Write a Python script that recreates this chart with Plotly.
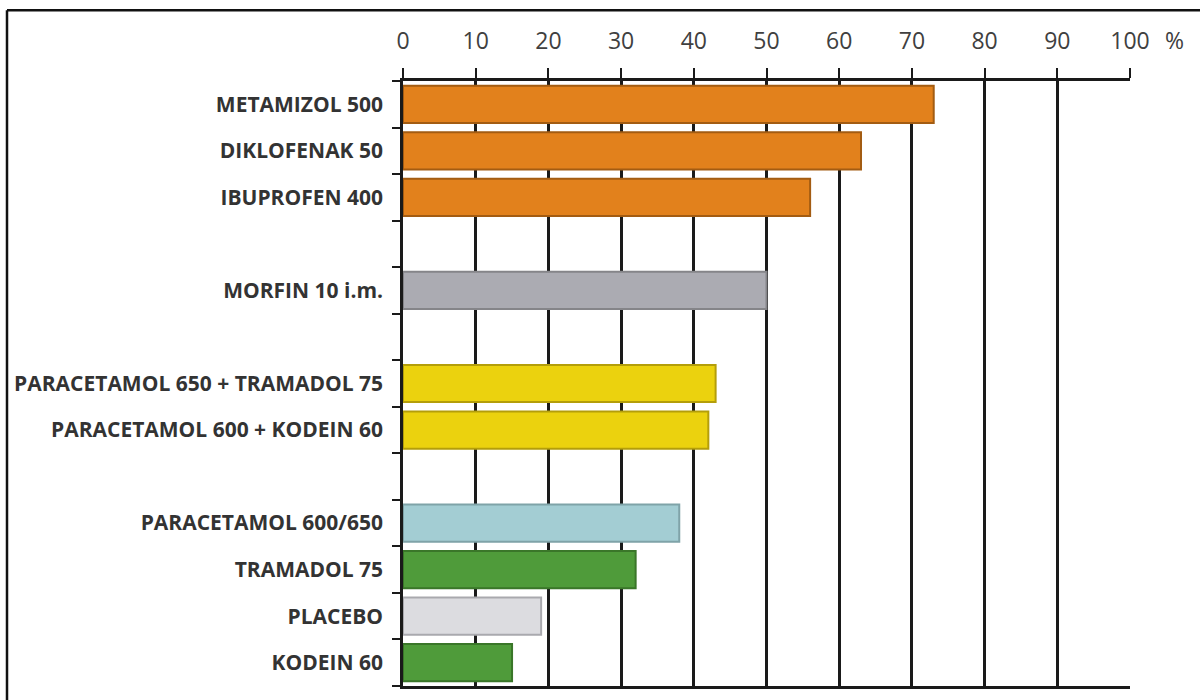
import plotly.graph_objects as go

# Response rates (%) by analgesic, in display order (top to bottom).
# Blank strings are spacer rows between groups.
categories = [
    "METAMIZOL 500", "DIKLOFENAK 50", "IBUPROFEN 400", " ",
    "MORFIN 10 i.m.", "  ",
    "PARACETAMOL 650 + TRAMADOL 75", "PARACETAMOL 600 + KODEIN 60", "   ",
    "PARACETAMOL 600/650", "TRAMADOL 75", "PLACEBO", "KODEIN 60",
]
drugs = [
    "METAMIZOL 500", "DIKLOFENAK 50", "IBUPROFEN 400",
    "MORFIN 10 i.m.",
    "PARACETAMOL 650 + TRAMADOL 75", "PARACETAMOL 600 + KODEIN 60",
    "PARACETAMOL 600/650", "TRAMADOL 75", "PLACEBO", "KODEIN 60",
]
values = [73, 63, 56, 50, 43, 42, 38, 32, 19, 15]
fill_colors = [
    "#E2811C", "#E2811C", "#E2811C",
    "#ABABB2",
    "#EBD20E", "#EBD20E",
    "#A3CDD3", "#4F9B3A", "#DCDCE0", "#4F9B3A",
]
edge_colors = [
    "#A35C12", "#A35C12", "#A35C12",
    "#858589",
    "#B49E0A", "#B49E0A",
    "#7FA3A8", "#3A7629", "#A9A9AE", "#3A7629",
]
x_ticks = [0, 10, 20, 30, 40, 50, 60, 70, 80, 90, 100]

fig = go.Figure()
fig.add_trace(go.Bar(
    x=values,
    y=drugs,
    orientation="h",
    width=0.8,
    marker=dict(color=fill_colors, line=dict(color=edge_colors, width=2)),
    hoverinfo="x+y",
))

W, H = 1200, 700
L, R, T, B = 403, 70, 81, 11
pw, ph = W - L - R, H - T - B

def px_x(p):
    return (p - L) / pw

def px_y(p):
    return 1 - (p - T) / ph

fig.update_layout(
    width=W, height=H,
    margin=dict(l=L, r=R, t=T, b=B),
    paper_bgcolor="white",
    plot_bgcolor="white",
    showlegend=False,
    bargap=0.2,
    xaxis=dict(
        side="top",
        range=[0, 100],
        tickvals=x_ticks,
        ticktext=[str(v) for v in x_ticks],
        ticks="outside",
        ticklen=10,
        tickwidth=2,
        tickcolor="#1a1a1a",
        showgrid=True,
        gridcolor="#1a1a1a",
        gridwidth=2.5,
        showline=True,
        linecolor="#1a1a1a",
        linewidth=2.5,
        mirror=True,
        zeroline=False,
        ticklabelstandoff=10,
        tickfont=dict(family="Open Sans", size=23, color="#404040"),
        fixedrange=True,
    ),
    yaxis=dict(
        type="category",
        categoryorder="array",
        categoryarray=categories,
        autorange="reversed",
        tickmode="array",
        tickvals=categories,
        ticktext=categories,
        tickson="boundaries",
        ticks="outside",
        ticklen=8,
        tickwidth=2,
        tickcolor="#1a1a1a",
        showgrid=False,
        showline=True,
        linecolor="#1a1a1a",
        linewidth=2.5,
        zeroline=False,
        ticklabelstandoff=13,
        tickfont=dict(family="Open Sans", size=21, color="#333333", weight=700),
        fixedrange=True,
    ),
    shapes=[
        # thin frame on the left and top edges of the page
        dict(type="line", xref="paper", yref="paper",
             x0=px_x(7), x1=px_x(7), y0=px_y(10), y1=px_y(710),
             line=dict(color="#111111", width=2.5)),
        dict(type="line", xref="paper", yref="paper",
             x0=px_x(7), x1=px_x(1210), y0=px_y(10), y1=px_y(10),
             line=dict(color="#111111", width=2.5)),
    ],
    annotations=[
        dict(text="%", x=100, xref="x", y=1, yref="paper",
             xanchor="left", yanchor="bottom", xshift=33, yshift=23,
             showarrow=False,
             font=dict(family="Open Sans", size=23, color="#404040")),
    ],
)

fig.write_html("out.html")
